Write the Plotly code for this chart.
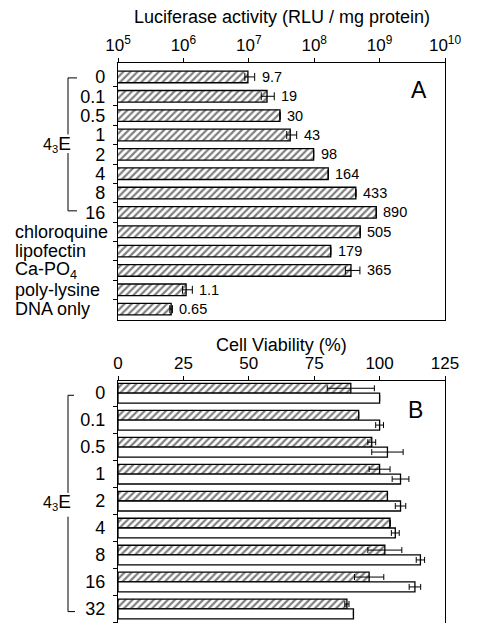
import math
import plotly.graph_objects as go

# ---------------- data ----------------
# Panel A: luciferase activity (x 10^6 RLU / mg protein)
a_categories = ["0", "0.1", "0.5", "1", "2", "4", "8", "16",
                "chloroquine", "lipofectin", "Ca-PO<sub>4</sub>", "poly-lysine", "DNA only"]
a_values_millions = [9.7, 19, 30, 43, 98, 164, 433, 890, 505, 179, 365, 1.1, 0.65]
a_err_plus_millions = [2.6, 5.5, 0, 11, 0, 0, 0, 0, 0, 0, 135, 0.27, 0.03]
a_err_minus_millions = [1.0, 3.5, 0, 5, 0, 0, 0, 0, 0, 0, 65, 0.13, 0.03]
a_numeric_count = 8  # first 8 categories are 4_3E concentrations

# Panel B: cell viability (%)
b_categories = ["0", "0.1", "0.5", "1", "2", "4", "8", "16", "32"]
b_hatched = [89, 92, 97, 100, 103, 104, 102, 96, 87.5]
b_hatched_err = [9, 0, 1.5, 4, 0, 0, 6.5, 5.6, 0.8]
b_open = [100, 100, 103, 108, 108, 106, 115.6, 113.5, 90]
b_open_err = [0, 1.5, 6, 3.2, 2, 1.5, 1.6, 2.2, 0]

a_x_exponents = [5, 6, 7, 8, 9, 10]
a_x_ticktext = ["10<sup>%d</sup>" % e for e in a_x_exponents]
b_x_ticks = [0, 25, 50, 75, 100, 125]

# ---------------- styling ----------------
FONT = "Liberation Sans, Arial, Helvetica, sans-serif"
W, H = 483, 623
OFF = 8  # page body margin offsets the figure
L_PX, R_PX = 118 - OFF, 445 - OFF
TOP_PX = 63 - OFF
plot_h = H - TOP_PX
a_bottom_px, b_top_px = 320 - OFF, 381 - OFF

def px_to_xpaper(px):
    """page pixel x -> paper x"""
    return (px - OFF - L_PX) / (R_PX - L_PX)

def px_to_ypaper(py):
    """page pixel y -> paper y"""
    return (H - (py - OFF)) / plot_h

hatch = dict(shape="/", fgcolor="black", bgcolor="white", size=5, solidity=0.45)
outline = dict(color="black", width=1.3)

fig = go.Figure()

# ---------------- Panel A ----------------
a_rows = list(range(len(a_categories)))
a_x = [v * 1e6 for v in a_values_millions]
fig.add_trace(go.Bar(
    x=a_x, y=a_rows, orientation="h", width=0.6,
    marker=dict(color="white", line=outline, pattern=hatch),
    error_x=dict(type="data", array=[e * 1e6 for e in a_err_plus_millions],
                 arrayminus=[e * 1e6 for e in a_err_minus_millions],
                 color="black", thickness=1, width=4, symmetric=False),
    xaxis="x", yaxis="y", showlegend=False, hoverinfo="skip"))

# ---------------- Panel B ----------------
b_rows = list(range(len(b_categories)))
fig.add_trace(go.Bar(
    x=b_hatched, y=b_rows, orientation="h", width=0.36, offset=-0.36,
    marker=dict(color="white", line=outline, pattern=hatch),
    error_x=dict(type="data", array=b_hatched_err, color="black", thickness=1, width=3),
    xaxis="x2", yaxis="y2", showlegend=False, hoverinfo="skip"))
fig.add_trace(go.Bar(
    x=b_open, y=b_rows, orientation="h", width=0.37, offset=0,
    marker=dict(color="white", line=outline),
    error_x=dict(type="data", array=b_open_err, color="black", thickness=1, width=3),
    xaxis="x2", yaxis="y2", showlegend=False, hoverinfo="skip"))

tickfont = dict(family=FONT, size=17, color="black")
labelfont = dict(family=FONT, size=18, color="black")

a_ticktext = [c if i < a_numeric_count else "" for i, c in enumerate(a_categories)]

fig.update_layout(
    width=W, height=H,
    margin=dict(l=L_PX, r=W - R_PX, t=TOP_PX, b=0, pad=0),
    paper_bgcolor="white", plot_bgcolor="white",
    barmode="overlay",
    font=dict(family=FONT, color="black"),
    xaxis=dict(type="log", range=[5, 10], side="top", anchor="y",
               tickvals=[10 ** t for t in a_x_exponents], ticktext=a_x_ticktext,
               showline=True, linecolor="black", linewidth=1.2, mirror=True,
               ticks="outside", ticklen=4, tickcolor="black", showgrid=False,
               zeroline=False, tickfont=tickfont),
    yaxis=dict(domain=[(H - a_bottom_px) / plot_h, 1], anchor="x",
               range=[12.56, -0.72], tickvals=a_rows, ticktext=a_ticktext,
               ticks="", ticklabelstandoff=8,
               minor=dict(tickmode="array", tickvals=[r + 0.5 for r in a_rows[:-1]],
                          ticks="outside", ticklen=4, tickcolor="black"),
               showline=True, linecolor="black", linewidth=1.2, mirror=True,
               showgrid=False, zeroline=False, tickfont=labelfont),
    xaxis2=dict(range=[0, 125], side="top", anchor="y2", tickvals=b_x_ticks,
                showline=True, linecolor="black", linewidth=1.2, mirror=False,
                ticks="outside", ticklen=4, tickcolor="black", showgrid=False,
                zeroline=False, tickfont=tickfont),
    yaxis2=dict(domain=[0, (H - b_top_px) / plot_h], anchor="x2",
                range=[8.82, -0.45], tickvals=b_rows, ticktext=b_categories,
                ticks="", ticklabelstandoff=8,
                minor=dict(tickmode="array", tickvals=[r + 0.5 for r in b_rows],
                           ticks="outside", ticklen=4, tickcolor="black"),
                showline=True, linecolor="black", linewidth=1.2, mirror=True,
                showgrid=False, zeroline=False, tickfont=labelfont),
)

sub_e = '<span style="font-size:16px">4<sub>3</sub></span>E'
annotations = [
    dict(text="Luciferase activity (RLU / mg protein)", xref="paper", yref="paper",
         x=0.5, y=px_to_ypaper(17.5), xanchor="center", yanchor="middle",
         showarrow=False, font=dict(family=FONT, size=18, color="black")),
    dict(text="Cell Viability (%)", xref="paper", yref="paper",
         x=0.5, y=px_to_ypaper(345), xanchor="center", yanchor="middle",
         showarrow=False, font=dict(family=FONT, size=18, color="black")),
    dict(text="A", xref="paper", yref="paper", x=px_to_xpaper(419), y=px_to_ypaper(90),
         xanchor="center", yanchor="middle", showarrow=False,
         font=dict(family=FONT, size=23, color="black")),
    dict(text="B", xref="paper", yref="paper", x=px_to_xpaper(415), y=px_to_ypaper(410),
         xanchor="center", yanchor="middle", showarrow=False,
         font=dict(family=FONT, size=23, color="black")),
    dict(text=sub_e, xref="paper", yref="y", x=px_to_xpaper(73), y=3.44,
         xanchor="right", yanchor="middle", showarrow=False,
         font=dict(family=FONT, size=19, color="black")),
    dict(text=sub_e, xref="paper", yref="y2", x=px_to_xpaper(73), y=4.04,
         xanchor="right", yanchor="middle", showarrow=False,
         font=dict(family=FONT, size=19, color="black")),
]
# value labels to the right of each bar / error bar in panel A
for i, (v, e) in enumerate(zip(a_values_millions, a_err_plus_millions)):
    annotations.append(dict(text=f"{v:g}", xref="x", yref="y",
                            x=math.log10((v + e) * 1e6), y=i, xanchor="left",
                            yanchor="middle", xshift=5, showarrow=False,
                            font=dict(family=FONT, size=14.5, color="black")))
# left-aligned treatment labels in panel A
for i, c in enumerate(a_categories):
    if i >= a_numeric_count:
        annotations.append(dict(text=c, xref="paper", yref="y", x=px_to_xpaper(13), y=i,
                                xanchor="left", yanchor="middle", showarrow=False,
                                font=labelfont))
fig.update_layout(annotations=annotations)

# brackets grouping the 4_3E concentrations
line = dict(color="black", width=1)
bx = px_to_xpaper(68)
bx_end = px_to_xpaper(77)
shapes = [
    # panel A
    dict(type="line", xref="paper", yref="y", x0=bx, x1=bx_end, y0=0.05, y1=0.05, line=line),
    dict(type="line", xref="paper", yref="y", x0=bx, x1=bx, y0=0.05, y1=2.97, line=line),
    dict(type="line", xref="paper", yref="y", x0=bx, x1=bx, y0=3.93, y1=6.92, line=line),
    dict(type="line", xref="paper", yref="y", x0=bx, x1=bx_end, y0=6.92, y1=6.92, line=line),
    # panel B
    dict(type="line", xref="paper", yref="y2", x0=bx, x1=px_to_xpaper(74), y0=0.08, y1=0.08, line=line),
    dict(type="line", xref="paper", yref="y2", x0=bx, x1=bx, y0=0.08, y1=3.70, line=line),
    dict(type="line", xref="paper", yref="y2", x0=bx, x1=bx, y0=4.58, y1=8.10, line=line),
    dict(type="line", xref="paper", yref="y2", x0=bx, x1=px_to_xpaper(75), y0=8.10, y1=8.10, line=line),
]
fig.update_layout(shapes=shapes)

fig.write_html("out.html")
